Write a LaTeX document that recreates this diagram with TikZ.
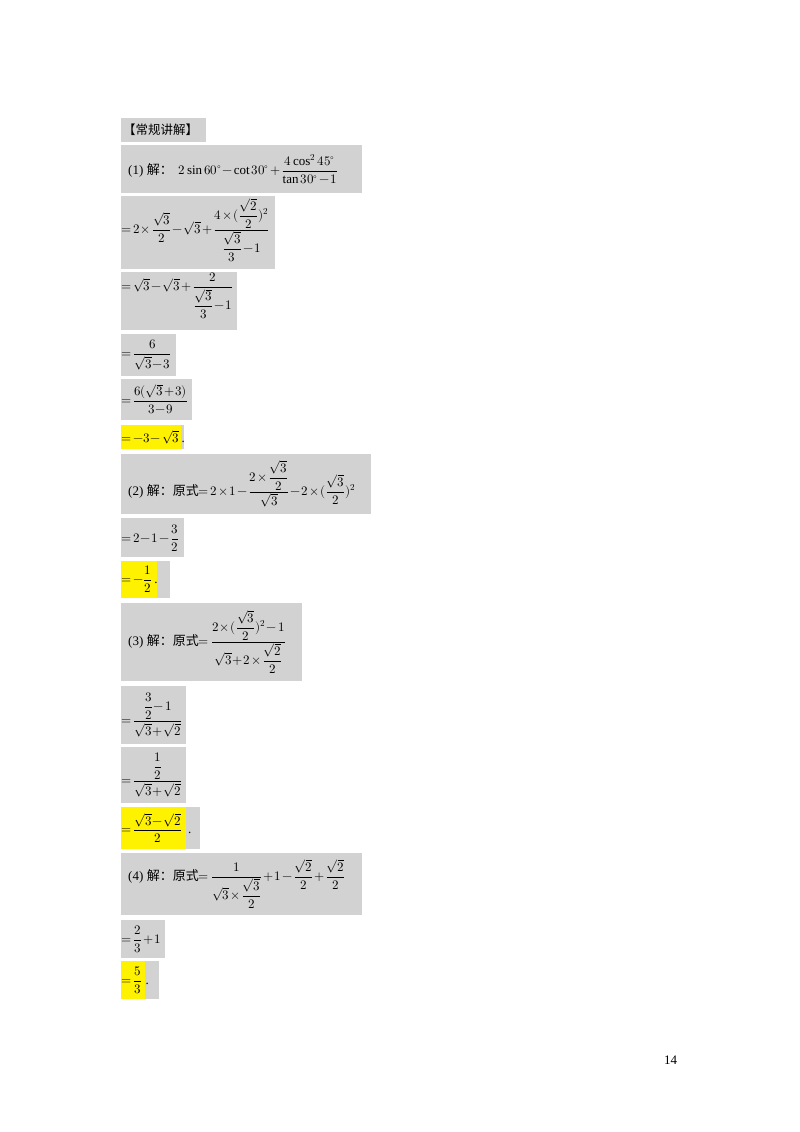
\documentclass[tikz,border=0pt]{standalone}
\usepackage{amsmath}
\usepackage{fontspec}
\setmainfont{Liberation Serif}
\newfontfamily\cjk{Noto Sans CJK SC}
\usepackage{unicode-math}
\setmathfont{Latin Modern Math}
\begin{document}
\begin{tikzpicture}[x=1pt,y=-1pt,
  gb/.style={fill=gray!35,draw=none},
  yb/.style={fill=yellow,draw=none},
  t/.style={anchor=west,inner sep=0pt,font=\fontsize{13}{15}\selectfont,
    execute at begin node={\medmuskip=1.5mu\thickmuskip=2.5mu}}]
\useasboundingbox (0,0) rectangle (800,1132);
\newcommand\gbox[4]{\fill[gb] (#1,#2) rectangle (#3,#4);}
\gbox{121}{118}{206}{142}
\node[t,font=\fontsize{12.5}{15}\selectfont] (h) at (123,130) {\cjk 【常规讲解】};
\gbox{121}{145}{362}{193}
\node[t] (a1) at (128,169) {(1)\;{\cjk 解：}\, $2\sin60^\circ-\cot30^\circ+\dfrac{4\cos^2 45^\circ}{\tan30^\circ-1}$};
\gbox{121}{196}{275}{269}
\node[t] (a2) at (121,230) {$=2\times\dfrac{\sqrt3}{2}-\sqrt3+\dfrac{4\times(\dfrac{\sqrt2}{2})^2}{\dfrac{\sqrt3}{3}-1}$};
\gbox{121}{272}{237}{330}
\node[t] (a3) at (121,296) {$=\sqrt3-\sqrt3+\dfrac{2}{\dfrac{\sqrt3}{3}-1}$};
\gbox{121}{334}{176}{376}
\node[t] (a4) at (121,355) {$=\dfrac{6}{\sqrt3-3}$};
\gbox{121}{379}{192}{420}
\node[t] (a5) at (121,399) {$=\dfrac{6(\sqrt3+3)}{3-9}$};
\gbox{121}{425}{184}{449}
\fill[yb] (121,425) rectangle (181,449);
\node[t] (a6) at (121,437) {$=-3-\sqrt3$\,.};
\gbox{121}{454}{371}{514}
\node[t] (b1) at (128,484) {(2)\;{\cjk 解：原式}$=2\times1-\dfrac{2\times\dfrac{\sqrt3}{2}}{\sqrt3}-2\times(\dfrac{\sqrt3}{2})^2$};
\gbox{121}{518}{184}{557}
\node[t] (b2) at (121,538) {$=2-1-\dfrac32$};
\gbox{121}{561}{170}{598}
\fill[yb] (121,561) rectangle (157,598);
\node[t] (b3) at (121,579) {$=-\dfrac12$\,.};
\gbox{121}{603}{302}{681}
\node[t] (c1) at (128,642) {(3)\;{\cjk 解：原式}$=\dfrac{2\times(\dfrac{\sqrt3}{2})^2-1}{\sqrt3+2\times\dfrac{\sqrt2}{2}}$};
\gbox{121}{686}{186}{744}
\node[t] (c2) at (121,715) {$=\dfrac{\dfrac32-1}{\sqrt3+\sqrt2}$};
\gbox{121}{747}{186}{803}
\node[t] (c3) at (121,775) {$=\dfrac{\dfrac12}{\sqrt3+\sqrt2}$};
\gbox{121}{807}{200}{849}
\fill[yb] (121,807) rectangle (186,849);
\node[t] (c4) at (121,828) {$=\dfrac{\sqrt3-\sqrt2}{2}$\;\,.};
\gbox{121}{853}{362}{915}
\node[t] (d1) at (128,884) {(4)\;{\cjk 解：原式}$=\dfrac{1}{\sqrt3\times\dfrac{\sqrt3}{2}}+1-\dfrac{\sqrt2}{2}+\dfrac{\sqrt2}{2}$};
\gbox{121}{920}{165}{958}
\node[t] (d2) at (121,939) {$=\dfrac23+1$};
\gbox{121}{961}{159}{999}
\fill[yb] (121,961) rectangle (145,999);
\node[t] (d3) at (121,980) {$=\dfrac53$\;.};
\node[t] (pg) at (664,1060) {14};
\end{tikzpicture}
\end{document}
